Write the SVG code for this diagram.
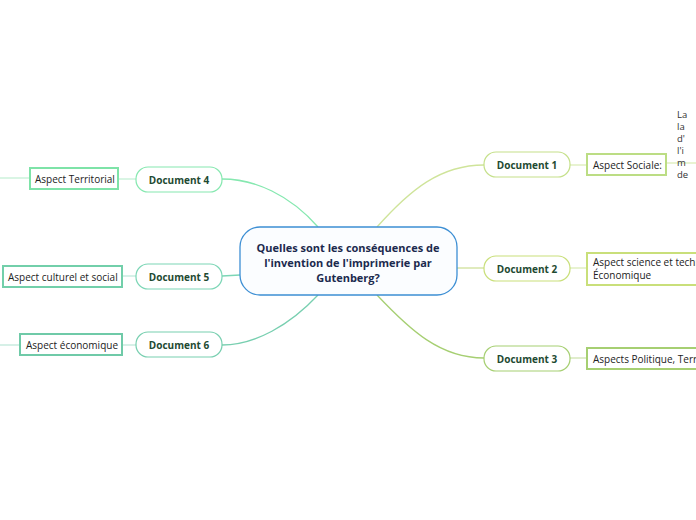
<svg xmlns="http://www.w3.org/2000/svg" width="696" height="520" viewBox="0 0 696 520">
<style>
text{font-family:"Open Sans","Noto Sans","DejaVu Sans",sans-serif}
.doc{fill:#fff;stroke-width:1.2}
.doct{font-size:10px;font-weight:bold;fill:#1e4a32;text-anchor:middle}
.asp{fill:#fff;stroke-width:2}
.aspt{font-size:10px;fill:#222}
.nt{font-size:9.5px;fill:#333}
.c{fill:none;stroke-width:1.3}
</style>
<rect width="696" height="520" fill="#fff"/>
<g id="connectors">
<path class="c" stroke="#cfe49a" d="M377,227 C410,190 440,165 484,165"/>
<path class="c" stroke="#cfe09a" d="M457,268 L484,268"/>
<path class="c" stroke="#a6cf72" d="M377,295 C410,330 440,358 484,358"/>
<path class="c" stroke="#86e8b0" d="M318,227 C290,195 255,179 222,179"/>
<path class="c" stroke="#7cd6b6" d="M240,275 L222,276"/>
<path class="c" stroke="#78cfb0" d="M318,295 C290,325 255,345 222,345"/>
<path class="c" stroke="#dcecb8" d="M570,165 L587,165"/>
<path class="c" stroke="#dcecb8" d="M570,268 L587,268"/>
<path class="c" stroke="#cfe4b0" d="M570,358 L587,358"/>
<path class="c" stroke="#c4f0d6" d="M136,179 L118,179"/>
<path class="c" stroke="#c0eadb" d="M136,276 L122,276"/>
<path class="c" stroke="#c0e8da" d="M136,345 L122,345"/>
<path class="c" stroke="#dcecb8" stroke-width="2" d="M666,163 L696,163"/>
<path class="c" stroke="#c4f0d6" stroke-width="2" d="M0,178 L30,178"/>
<path class="c" stroke="#c0e8da" d="M0,345 L20,345"/>
</g>
<g id="central">
<rect x="240" y="227" width="217" height="68" rx="20" fill="#fbfdff" stroke="#3d8fd4" stroke-width="1.3"/>
<text x="348" y="252" font-size="11" font-weight="bold" fill="#1b2a4e" text-anchor="middle">Quelles sont les conséquences de</text>
<text x="348" y="267" font-size="11" font-weight="bold" fill="#1b2a4e" text-anchor="middle">l'invention de l'imprimerie par</text>
<text x="348" y="282" font-size="11" font-weight="bold" fill="#1b2a4e" text-anchor="middle">Gutenberg?</text>
</g>
<g id="doc1">
<rect class="doc" x="484" y="152" width="86" height="25" rx="12" stroke="#c5e08a"/>
<text class="doct" x="527" y="168.5">Document 1</text>
</g>
<g id="aspect1">
<rect class="asp" x="587" y="154" width="79" height="21" stroke="#bcdd84"/>
<text class="aspt" x="593" y="168.5">Aspect Sociale:</text>
</g>
<g id="note1">
<text class="nt" x="677" y="118">La</text>
<text class="nt" x="677" y="130">la</text>
<text class="nt" x="677" y="142">d'</text>
<text class="nt" x="677" y="154">l'i</text>
<text class="nt" x="677" y="166">m</text>
<text class="nt" x="677" y="178">de</text>
</g>
<g id="doc2">
<rect class="doc" x="484" y="256" width="86" height="25" rx="12" stroke="#c9df7a"/>
<text class="doct" x="527" y="272.5">Document 2</text>
</g>
<g id="aspect2">
<rect class="asp" x="587" y="253" width="120" height="32" stroke="#c9df7a"/>
<text class="aspt" x="593" y="266">Aspect science et technique</text>
<text class="aspt" x="593" y="279">Économique</text>
</g>
<g id="doc3">
<rect class="doc" x="484" y="346" width="86" height="25" rx="12" stroke="#a6cf72"/>
<text class="doct" x="527" y="362.5">Document 3</text>
</g>
<g id="aspect3">
<rect class="asp" x="587" y="348" width="120" height="21" stroke="#a6cf72"/>
<text class="aspt" x="593" y="362.5">Aspects Politique, Territorial</text>
</g>
<g id="doc4">
<rect class="doc" x="136" y="167" width="86" height="25" rx="12" stroke="#86e8b0"/>
<text class="doct" x="179" y="183.5">Document 4</text>
</g>
<g id="aspect4">
<rect class="asp" x="30" y="168" width="88" height="21" stroke="#7ee3a8"/>
<text class="aspt" x="35" y="182.5">Aspect Territorial</text>
</g>
<g id="doc5">
<rect class="doc" x="136" y="264" width="86" height="25" rx="12" stroke="#7cd6b6"/>
<text class="doct" x="179" y="280.5">Document 5</text>
</g>
<g id="aspect5">
<rect class="asp" x="3" y="266" width="119" height="21" stroke="#72cfaa"/>
<text class="aspt" x="8" y="280.5">Aspect culturel et social</text>
</g>
<g id="doc6">
<rect class="doc" x="136" y="332" width="86" height="25" rx="12" stroke="#78cfb0"/>
<text class="doct" x="179" y="348.5">Document 6</text>
</g>
<g id="aspect6">
<rect class="asp" x="20" y="334" width="102" height="21" stroke="#6fcaa8"/>
<text class="aspt" x="26" y="348.5">Aspect économique</text>
</g>
</svg>
